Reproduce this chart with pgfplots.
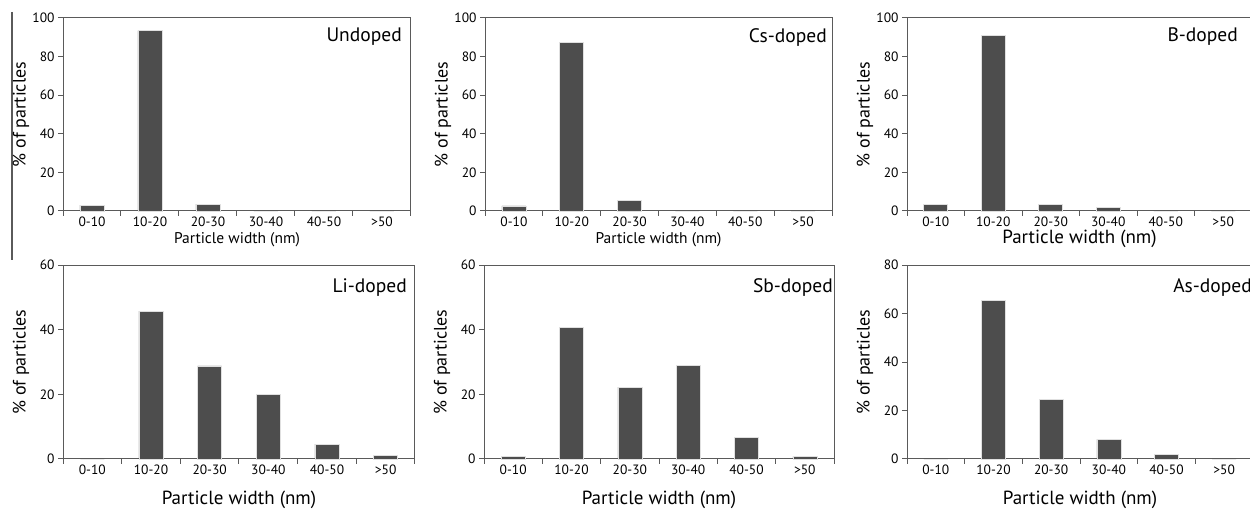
\documentclass[border=0pt]{standalone}
\usepackage{fontspec}
\setmainfont{PT Sans}
\usepackage{pgfplots}
\pgfplotsset{compat=1.18}

\definecolor{barfill}{HTML}{4D4D4D}
\definecolor{axisgray}{HTML}{5A5A5A}

\pgfplotsset{
  panel/.style={
    scale only axis, anchor=south west, clip=false,
    ybar, bar width=24pt,
    xmin=-0.5, xmax=5.5, ymin=0,
    xtick={-0.5,0.5,...,5.5}, x tick label as interval,
    xticklabels={0-10,10-20,20-30,30-40,40-50,>50},
    tick align=outside, major tick length=5pt,
    xtick pos=bottom, ytick pos=left,
    axis line style={axisgray, line width=1pt},
    tick style={axisgray, line width=1pt},
    ticklabel style={font=\fontsize{13.5}{15}\selectfont},
    xticklabel style={yshift=3pt},
    /pgf/number format/assume math mode=true,
    ylabel={\% of particles},
    ylabel style={font=\fontsize{18}{20}\selectfont, at={(axis description cs:0,0.5)},
      yshift=42pt, anchor=center},
    xlabel={Particle width (nm)},
    xlabel style={at={(axis description cs:0.5,0)}, anchor=center},
  },
  bars/.style={fill=barfill, draw=black!12, line width=0.6pt},
  toprow/.style={height=193pt, ymax=100, ytick={0,20,...,100}},
  smalllab/.style={xlabel style={font=\fontsize{15.5}{17}\selectfont, yshift=-29pt}},
  biglab/.style={xlabel style={font=\fontsize{19}{21}\selectfont, yshift=#1}},
}
\newcommand{\paneltitle}[3]{\node[anchor=north east, inner sep=0pt,
  font=\fontsize{19.5}{21}\selectfont] at (rel axis cs:1,1) [xshift=-#1, yshift=-#2] {#3};}

\begin{document}
\begin{tikzpicture}
\useasboundingbox (0,0) rectangle (1250pt,511pt);
\clip (0,0) rectangle (1250pt,511pt);

\draw[axisgray, line width=1.3pt] (12pt,499pt) -- (12pt,251pt);

% Undoped
\begin{axis}[panel, toprow, smalllab, at={(63pt,300pt)}, width=348pt]
\addplot[bars] coordinates {(0,3.1) (1,93.4) (2,3.6) (3,0) (4,0) (5,0)};
\paneltitle{9pt}{10pt}{Undoped}
\end{axis}

% Cs-doped
\begin{axis}[panel, toprow, smalllab, at={(485pt,300pt)}, width=347pt]
\addplot[bars] coordinates {(0,2.6) (1,87.5) (2,5.4) (3,0) (4,0) (5,0)};
\paneltitle{5pt}{10pt}{Cs-doped}
\end{axis}

% B-doped
\begin{axis}[panel, toprow, biglab=-28pt, at={(907pt,300pt)}, width=345pt]
\addplot[bars] coordinates {(0,3.6) (1,91.0) (2,3.6) (3,1.9) (4,0) (5,0)};
\paneltitle{14pt}{10pt}{B-doped}
\end{axis}

% Li-doped
\begin{axis}[panel, biglab=-41pt, at={(63pt,52pt)}, width=352pt, height=194pt,
  ymax=60, ytick={0,20,...,60}]
\addplot[bars] coordinates {(0,0) (1,45.7) (2,28.8) (3,20.0) (4,4.6) (5,1.1)};
\paneltitle{8pt}{13pt}{Li-doped}
\end{axis}

% Sb-doped
\begin{axis}[panel, biglab=-41pt, at={(484pt,52pt)}, width=350pt, height=194pt,
  ymax=60, ytick={0,20,...,60}]
\addplot[bars] coordinates {(0,0.7) (1,40.8) (2,22.2) (3,28.9) (4,6.7) (5,0.7)};
\paneltitle{1pt}{13pt}{Sb-doped}
\end{axis}

% As-doped
\begin{axis}[panel, biglab=-41pt, at={(907pt,52pt)}, width=346pt, height=194pt,
  ymax=80, ytick={0,20,...,80}]
\addplot[bars] coordinates {(0,0) (1,65.4) (2,24.7) (3,8.1) (4,1.9) (5,0)};
\paneltitle{1pt}{13pt}{As-doped}
\end{axis}
\end{tikzpicture}
\end{document}
